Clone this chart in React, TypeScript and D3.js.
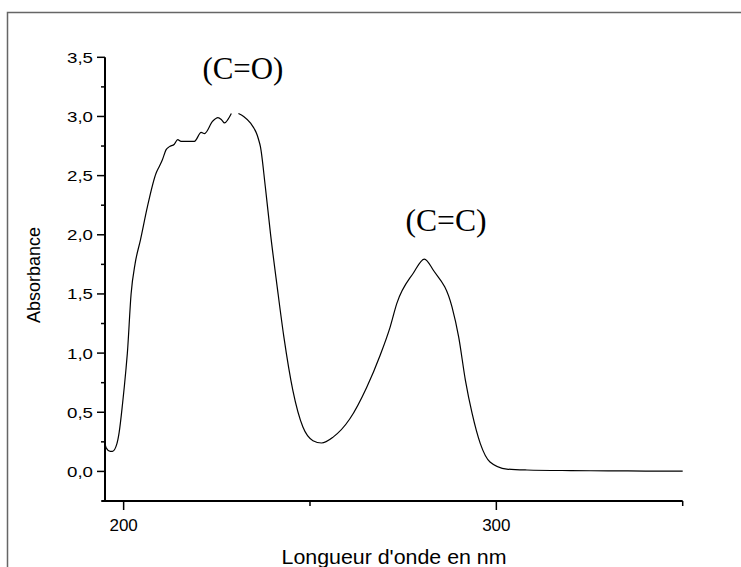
import React from "react";
import * as d3 from "d3";

const wavelength = [195, 195.3, 196.4, 197.0, 198.2, 198.8, 199.7, 200.6, 201.0, 202.0, 203.1, 204.5, 206.4, 208.7, 209.6, 210.4, 211.4, 212.3, 213.6, 214.5, 215.4, 219.0, 220.8, 221.7, 223.9, 225.3, 226.2, 227.1, 228.0, 228.9, 229.8, 230.8, 232.2, 234.0, 235.8, 236.2, 236.7, 238.0, 239.4, 241.2, 243.0, 245.4, 248.1, 250.8, 253.1, 256.2, 260.7, 265.2, 268.8, 271.5, 273.3, 277.7, 280.7, 283.1, 288.1, 289.9, 291.7, 293.5, 295.7, 298.3, 302.8, 308.2, 320, 330, 340, 350];
const absorbance = [0.24, 0.20, 0.17, 0.17, 0.235, 0.33, 0.57, 0.855, 1.0, 1.50, 1.76, 1.955, 2.24, 2.52, 2.58, 2.635, 2.72, 2.745, 2.765, 2.805, 2.79, 2.79, 2.865, 2.855, 2.96, 2.99, 2.975, 2.945, 2.975, 3.025, NaN, 3.025, 3.0, 2.945, 2.845, 2.805, 2.745, 2.41, 2.01, 1.56, 1.135, 0.685, 0.375, 0.26, 0.24, 0.29, 0.445, 0.71, 0.98, 1.22, 1.42, 1.675, 1.795, 1.70, 1.39, 1.135, 0.77, 0.49, 0.235, 0.08, 0.02, 0.012, 0.007, 0.005, 0.003, 0.002];

const yMajorTicks = [0, 0.5, 1.0, 1.5, 2.0, 2.5, 3.0, 3.5];
const yMinorTicks = [-0.25, 0.25, 0.75, 1.25, 1.75, 2.25, 2.75, 3.25];
const xMajorTicks = [200, 300];
const xMinorTicks = [250, 350];

const peakLabels = [
  { text: "(C=O)", x: 232, y: 3.32 },
  { text: "(C=C)", x: 286.5, y: 2.03 },
];

const fmt = (v: number) => v.toFixed(1).replace(".", ",");

export default function App() {
  const W = 741, H = 567;
  const x = d3.scaleLinear().domain([195, 350]).range([105, 682.7]);
  const y = d3.scaleLinear().domain([-0.25, 3.5]).range([501, 57.3]);
  const data = wavelength.map((w, i) => ({ w, a: absorbance[i] }));
  const line = d3
    .line<{ w: number; a: number }>()
    .defined((d) => !isNaN(d.a))
    .x((d) => x(d.w))
    .y((d) => y(d.a))
    .curve(d3.curveMonotoneX);

  const axisX0 = x(195);
  const axisY0 = y(-0.25);
  return (
    <svg width={W} height={H} style={{ position: "absolute", left: 0, top: 0, background: "#fff" }}>
      <rect x={7.5} y={12.5} width={760} height={600} fill="none" stroke="#666" strokeWidth={1.5} />
      <path d={line(data) || ""} fill="none" stroke="#000" strokeWidth={1.2} />
      {/* y axis */}
      <line x1={axisX0} x2={axisX0} y1={y(3.5)} y2={axisY0 + 1} stroke="#000" strokeWidth={2} />
      {yMajorTicks.map((t) => (
        <g key={"ym" + t}>
          <line x1={axisX0 - 8} x2={axisX0} y1={y(t)} y2={y(t)} stroke="#000" strokeWidth={1.5} />
          <text
            x={93}
            y={y(t) + 5.4}
            textAnchor="end"
            fontFamily="Liberation Sans, Arial, sans-serif"
            fontSize={14}
            textLength={26}
            lengthAdjust="spacingAndGlyphs"
          >
            {fmt(t)}
          </text>
        </g>
      ))}
      {yMinorTicks.map((t) => (
        <line key={"yn" + t} x1={axisX0 - 4} x2={axisX0} y1={y(t)} y2={y(t)} stroke="#000" strokeWidth={1.5} />
      ))}
      {/* x axis */}
      <line x1={axisX0 - 3} x2={x(350)} y1={axisY0} y2={axisY0} stroke="#000" strokeWidth={2} />
      {xMajorTicks.map((t) => (
        <g key={"xm" + t}>
          <line x1={x(t)} x2={x(t)} y1={axisY0} y2={axisY0 + 9} stroke="#000" strokeWidth={1.5} />
          <text x={x(t)} y={530.7} textAnchor="middle" fontFamily="Liberation Sans, Arial, sans-serif" fontSize={17}>
            {t}
          </text>
        </g>
      ))}
      {xMinorTicks.map((t) => (
        <line key={"xn" + t} x1={x(t)} x2={x(t)} y1={axisY0} y2={axisY0 + 5} stroke="#000" strokeWidth={1.5} />
      ))}
      <text
        x={394}
        y={564}
        textAnchor="middle"
        fontFamily="Liberation Sans, Arial, sans-serif"
        fontSize={20}
        textLength={225}
        lengthAdjust="spacingAndGlyphs"
      >
        Longueur d'onde en nm
      </text>
      <text
        transform={`translate(40, 275) rotate(-90)`}
        textAnchor="middle"
        fontFamily="Liberation Sans, Arial, sans-serif"
        fontSize={18}
      >
        Absorbance
      </text>
      {peakLabels.map((p) => (
        <text
          key={p.text}
          x={x(p.x)}
          y={y(p.y)}
          textAnchor="middle"
          fontFamily="Liberation Serif, Times New Roman, serif"
          fontSize={31}
          textLength={81}
          lengthAdjust="spacingAndGlyphs"
        >
          {p.text}
        </text>
      ))}
    </svg>
  );
}
